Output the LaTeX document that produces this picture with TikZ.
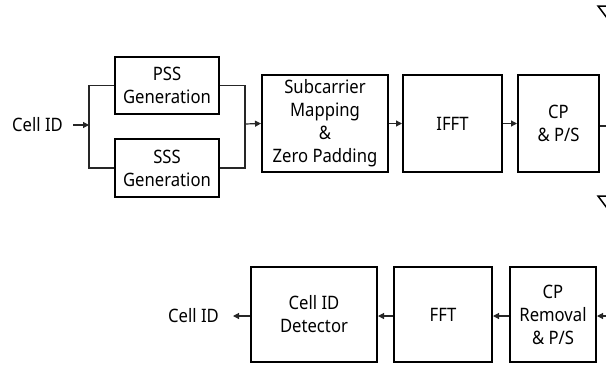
\documentclass[tikz,border=0pt]{standalone}
\usepackage{fontspec}
\setmainfont{Noto Sans}[FakeStretch=0.9]
\usetikzlibrary{arrows.meta}
\begin{document}
\begin{tikzpicture}[x=1pt,y=-1pt,
  blk/.style={draw=black,line width=2pt,inner sep=0pt,align=center,
    font=\fontsize{18.5}{23}\selectfont},
  lbl/.style={inner sep=0pt,font=\fontsize{18.5}{23}\selectfont},
  wire/.style={draw=black!85,line width=1.2pt},
  arr/.style={wire,-{Triangle[length=6pt,width=6pt]}},
  ant/.style={draw=black,line width=1.5pt,line join=miter}]
\useasboundingbox (0,0) rectangle (606,365);
\clip (0,0) rectangle (606,365);

% transmitter chain
\node[lbl,anchor=east] (cellin) at (63,125) {Cell ID};
\coordinate (split) at (89,125);
\node[blk,minimum width=104pt,minimum height=57pt] (pss) at (167,85.5) {PSS\\Generation};
\node[blk,minimum width=104pt,minimum height=58pt] (sss) at (167,168) {SSS\\Generation};
\coordinate (merge) at (245,124);
\node[blk,minimum width=126pt,minimum height=97pt] (sub) at (325,123.5) {Subcarrier\\Mapping\\\&\\Zero Padding};
\node[blk,minimum width=99pt,minimum height=97pt] (ifft) at (452.5,123.5) {IFFT};
\node[blk,minimum width=81pt,minimum height=97pt] (cp) at (558.5,123.5) {CP\\\& P/S};
\coordinate (txout) at (606,126);

\coordinate (intail) at (73,125);
\draw[arr] (intail) -- (split);
\draw[wire] (pss.west) -| (split) |- (sss.west);
\draw[wire] (pss.east) -| (merge) |- (sss.east);
\draw[arr] (merge) -- (sub.west);
\draw[arr] (sub.east) -- (ifft.west);
\draw[arr] (ifft.east) -- (cp.west);
\draw[wire] (cp.east |- txout) -- (txout);

% antennas
\draw[ant] (598,6) -- (622,6) -- (610,22) -- cycle;
\draw[ant] (598,196) -- (622,196) -- (610,212) -- cycle;

% receiver chain
\coordinate (rxin) at (606,316);
\node[blk,minimum width=86pt,minimum height=95pt] (cprm) at (553,314.5) {CP\\Removal\\\& P/S};
\node[blk,minimum width=98pt,minimum height=95pt] (fft) at (443,314.5) {FFT};
\node[blk,minimum width=126pt,minimum height=95pt] (det) at (314,314.5) {Cell ID\\Detector};
\node[lbl,anchor=east] (cellout) at (219,316) {Cell ID};
\coordinate (outtip) at (233,316);

\draw[arr] (rxin) -- (cprm.east |- rxin);
\draw[arr] (cprm.west |- rxin) -- (fft.east |- rxin);
\draw[arr] (fft.west |- rxin) -- (det.east |- rxin);
\draw[arr] (det.west |- rxin) -- (outtip);
\end{tikzpicture}
\end{document}
